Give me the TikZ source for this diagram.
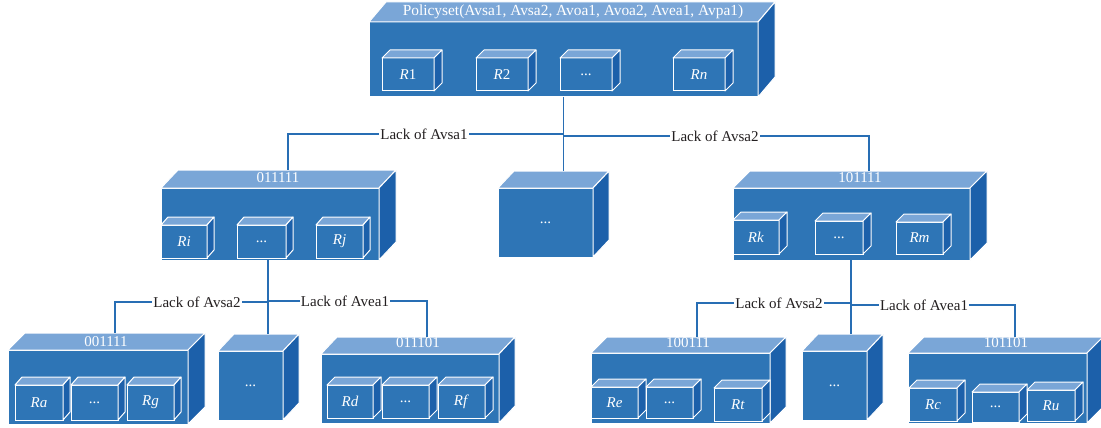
\documentclass[tikz,border=0pt]{standalone}
\usepackage{fontspec}
\setmainfont{Liberation Serif}
\usetikzlibrary{calc}
\definecolor{cfront}{RGB}{46,117,182}
\definecolor{ctop}{RGB}{122,166,215}
\definecolor{cside}{RGB}{28,96,170}
\definecolor{cline}{RGB}{40,110,180}
\definecolor{ctext}{RGB}{35,31,32}
\tikzset{
  frontface/.style={rectangle, fill=cfront, draw=white, line width=1pt, inner sep=0pt, outer sep=0pt,
    text=white, font=\fontsize{15}{17}\selectfont},
  topface/.style={fill=ctop, draw=white, line width=1pt, line join=round},
  sideface/.style={fill=cside, draw=white, line width=1pt, line join=round},
  boxtxt/.style={text=white, inner sep=0pt, font=\fontsize{15}{17}\selectfont},
  conn/.style={draw=cline, line width=1.4pt},
  lbl/.style={fill=white, inner sep=1pt, text=ctext, font=\fontsize{15}{17}\selectfont},
}
% #1 name, #2 x, #3 y, #4 width, #5 height, #6 dx, #7 dy, #8 text
\newcommand\mybox[8]{%
  \node[frontface, anchor=north west, minimum width=#4pt, minimum height=#5pt] (#1) at (#2,#3) {#8};
  \path[topface] (#1.north west) -- ++(#6,-#7) -- ([shift={(#6,-#7)}]#1.north east) -- (#1.north east) -- cycle;
  \path[sideface] (#1.north east) -- ++(#6,-#7) -- ([shift={(#6,-#7)}]#1.south east) -- (#1.south east) -- cycle;
}
\begin{document}
\begin{tikzpicture}[x=1pt,y=-1pt]
\useasboundingbox (0,0) rectangle (1101,428);

% ---- top box
\mybox{P}{369}{22}{389}{75}{17}{20}{}
\node[boxtxt, font=\fontsize{15.4}{17}\selectfont] (P-t) at (573,12) {Policyset(Avsa1, Avsa2, Avoa1, Avoa2, Avea1, Avpa1)};
\mybox{P1}{382}{58}{52}{33}{8}{8}{\textit{R}1}
\mybox{P2}{476}{58}{52}{33}{8}{8}{\textit{R}2}
\mybox{P3}{560}{58}{52}{33}{8}{8}{...}
\mybox{P4}{673}{58}{52}{33}{8}{8}{\textit{Rn}}

% ---- middle row
\mybox{A}{161}{188}{218}{72}{17}{18}{}
\node[boxtxt] (A-t) at (278,178) {011111};
\mybox{A1}{161}{225}{46}{33}{7}{8}{\textit{Ri}}
\mybox{A2}{237}{225}{49}{33}{7}{8}{...}
\mybox{A3}{316}{225}{47}{33}{7}{8}{\textit{Rj}}

\mybox{M}{498}{188}{95}{69}{16}{17}{...}

\mybox{B}{733}{188}{237}{72}{17}{17}{}
\node[boxtxt] (B-t) at (860,178) {101111};
\mybox{B1}{733}{220}{46}{34}{8}{8}{\textit{Rk}}
\mybox{B2}{815}{221}{48}{33}{8}{8}{...}
\mybox{B3}{896}{222}{47}{32}{8}{8}{\textit{Rm}}

% ---- bottom row, left group
\mybox{C1}{8}{350}{180}{74}{17}{17}{}
\node[boxtxt] (C1-t) at (106,342) {001111};
\mybox{C11}{15}{385}{48}{35}{7}{8}{\textit{Ra}}
\mybox{C12}{71}{385}{47}{35}{7}{8}{...}
\mybox{C13}{127}{385}{47}{35}{7}{8}{\textit{Rg}}

\mybox{C2}{218}{351}{65}{69}{16}{17}{...}

\mybox{C3}{321}{354}{178}{69}{16}{17}{}
\node[boxtxt] (C3-t) at (418,343) {011101};
\mybox{C31}{327}{385}{46}{33}{8}{8}{\textit{Rd}}
\mybox{C32}{382}{385}{47}{33}{8}{8}{...}
\mybox{C33}{438}{385}{47}{33}{8}{8}{\textit{Rf}}

% ---- bottom row, right group
\mybox{D1}{591}{353}{179}{70}{16}{16}{}
\node[boxtxt] (D1-t) at (688,343) {100111};
\mybox{D11}{591}{387}{47}{31}{8}{8}{\textit{Re}}
\mybox{D12}{646}{387}{47}{31}{8}{8}{...}
\mybox{D13}{714}{388}{48}{33}{8}{8}{\textit{Rt}}

\mybox{D2}{802}{351}{65}{69}{16}{17}{...}

\mybox{D3}{908}{353}{179}{70}{16}{16}{}
\node[boxtxt] (D3-t) at (1006,343) {101101};
\mybox{D31}{909}{388}{48}{33}{8}{8}{\textit{Rc}}
\mybox{D32}{972}{392}{47}{30}{8}{8}{...}
\mybox{D33}{1027}{390}{48}{31}{8}{8}{\textit{Ru}}

% ---- connectors level 1
\coordinate (M-in) at (P.south |- 0,171);
\coordinate (A-in) at (288,170);
\coordinate (B-in) at (869,171);
\coordinate (jL) at (P.south |- 0,134);
\coordinate (jR) at (P.south |- 0,136);
\draw[conn] (P.south) -- (M-in);
\draw[conn] (jL) -| (A-in);
\draw[conn] (jR) -| (B-in);
\node[lbl] (lab1) at (424,134) {Lack of Avsa1};
\node[lbl] (lab2) at (715,136) {Lack of Avsa2};

% ---- connectors level 2, left
\coordinate (C2-in) at (268,334);
\coordinate (C1-in) at (115,333);
\coordinate (C3-in) at (427,337);
\coordinate (jA1) at (268,302);
\coordinate (jA2) at (268,301);
\draw[conn] (A.south -| C2-in) -- (C2-in);
\draw[conn] (jA1) -| (C1-in);
\draw[conn] (jA2) -| (C3-in);
\node[lbl] (lab3) at (197,302) {Lack of Avsa2};
\node[lbl] (lab4) at (345,301) {Lack of Avea1};

% ---- connectors level 2, right
\coordinate (D2-in) at (851,334);
\coordinate (D1-in) at (697,337);
\coordinate (D3-in) at (1015,337);
\coordinate (jB1) at (851,303);
\coordinate (jB2) at (851,305);
\draw[conn] (B.south -| D2-in) -- (D2-in);
\draw[conn] (jB1) -| (D1-in);
\draw[conn] (jB2) -| (D3-in);
\node[lbl] (lab5) at (779,303) {Lack of Avsa2};
\node[lbl] (lab6) at (924,305) {Lack of Avea1};
\end{tikzpicture}
\end{document}
